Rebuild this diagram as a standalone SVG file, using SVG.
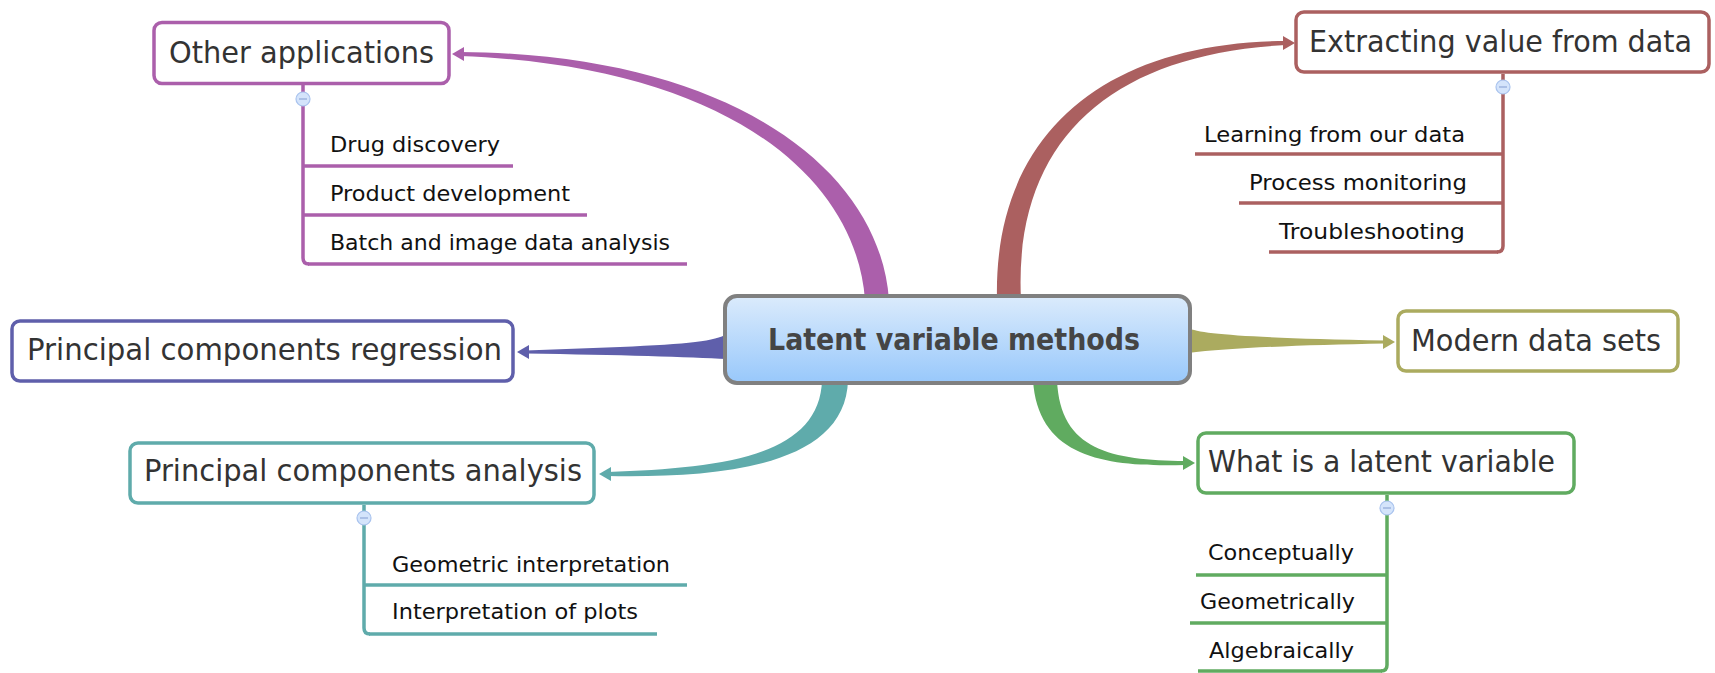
<svg xmlns="http://www.w3.org/2000/svg" width="1715" height="673" viewBox="0 0 1715 673">
<defs>
<linearGradient id="cg" x1="0" y1="0" x2="0" y2="1">
<stop offset="0" stop-color="#dbebfc"/>
<stop offset="1" stop-color="#98c8fb"/>
</linearGradient>
</defs>
<style>
.main{font-family:"DejaVu Sans","Liberation Sans",sans-serif;font-size:30.5px;fill:#333;}
.sub{font-family:"DejaVu Sans","Liberation Sans",sans-serif;font-size:21.5px;fill:#111;}
.ctr{font-family:"DejaVu Sans","Liberation Sans",sans-serif;font-size:30px;font-weight:bold;fill:#454545;}
.box{fill:#fff;stroke-width:3.5;}
.ul{fill:none;stroke-width:3.5;stroke-linecap:butt;}
.tog{fill:#d4e4fb;stroke:#a9c3ee;stroke-width:1.2;}
.togm{stroke:#8fa8d8;stroke-width:1.2;}
.pu{stroke:#ab5fab;} .puf{fill:#ab5fab;}
.rd{stroke:#ab6060;} .rdf{fill:#ab6060;}
.in{stroke:#5f5fab;} .inf{fill:#5f5fab;}
.te{stroke:#5fabab;} .tef{fill:#5fabab;}
.ol{stroke:#abab5f;} .olf{fill:#abab5f;}
.gr{stroke:#60ab60;} .grf{fill:#60ab60;}
</style>
<rect width="1715" height="673" fill="#fff"/>

<g id="connectors">
<!-- Other applications -->
<path class="puf" d="M889,300 C880,170 732,54 460,52 L460,56 C728,66 856,178 865,300 Z"/>
<polygon class="puf" points="452,54 464,47 464,61"/>
<!-- Extracting value -->
<path class="rdf" d="M997,300 C993,131 1108,42 1286,41 L1286,45 C1112,54 1013,139 1021,300 Z"/>
<polygon class="rdf" points="1295,43 1283,36 1283,50"/>
<!-- PCR -->
<path class="inf" d="M727,334 C715,341 690,344 620,347 L526,350.5 L526,353.5 C620,355 690,357 727,359 Z"/>
<polygon class="inf" points="517,352 529,345 529,359"/>
<!-- Modern data sets -->
<path class="olf" d="M1188,328 C1200,334 1250,338 1385,340.5 L1385,343.5 C1300,345 1230,348 1188,353 Z"/>
<polygon class="olf" points="1395,342 1383,335 1383,349"/>
<!-- PCA -->
<path class="tef" d="M848,380 C846,466 722,478 608,476 L608,472 C718,468 820,458 822,380 Z"/>
<polygon class="tef" points="599,474 611,467 611,481"/>
<!-- What is a latent variable -->
<path class="grf" d="M1033,380 C1038,459 1108,467 1185,465 L1185,461 C1112,460 1060,451 1057,380 Z"/>
<polygon class="grf" points="1195,463 1183,456 1183,470"/>

<!-- subtree spines -->
<path class="ul pu" d="M303,85 V258 Q303,264 309,264"/>
<path class="ul rd" d="M1503,74 V246 Q1503,252 1497,252"/>
<path class="ul te" d="M364,505 V628 Q364,634 370,634"/>
<path class="ul gr" d="M1387,495 V665 Q1387,671 1381,671"/>
</g>

<g id="n-center">
<rect x="725" y="296" width="465" height="87" rx="12" fill="url(#cg)" stroke="#808080" stroke-width="4"/>
<text class="ctr" x="768" y="350" textLength="372" lengthAdjust="spacingAndGlyphs">Latent variable methods</text>
</g>

<g id="n-other">
<rect class="box pu" x="154" y="22.5" width="295" height="61" rx="8"/>
<text class="main" x="169" y="63" textLength="265" lengthAdjust="spacingAndGlyphs">Other applications</text>
<circle class="tog" cx="303" cy="99" r="7"/>
<line class="togm" x1="299" y1="99" x2="307" y2="99"/>
</g>
<g id="s-drug">
<line class="ul pu" x1="303" y1="166" x2="513" y2="166"/>
<text class="sub" x="330" y="152" textLength="170" lengthAdjust="spacingAndGlyphs">Drug discovery</text>
</g>
<g id="s-product">
<line class="ul pu" x1="303" y1="215" x2="587" y2="215"/>
<text class="sub" x="330" y="201" textLength="240" lengthAdjust="spacingAndGlyphs">Product development</text>
</g>
<g id="s-batch">
<line class="ul pu" x1="308" y1="264" x2="687" y2="264"/>
<text class="sub" x="330" y="250" textLength="340" lengthAdjust="spacingAndGlyphs">Batch and image data analysis</text>
</g>

<g id="n-extract">
<rect class="box rd" x="1296" y="12" width="413" height="60" rx="8"/>
<text class="main" x="1309" y="52" textLength="383" lengthAdjust="spacingAndGlyphs">Extracting value from data</text>
<circle class="tog" cx="1503" cy="87" r="7"/>
<line class="togm" x1="1499" y1="87" x2="1507" y2="87"/>
</g>
<g id="s-learning">
<line class="ul rd" x1="1195" y1="154" x2="1503" y2="154"/>
<text class="sub" x="1204" y="142" textLength="261" lengthAdjust="spacingAndGlyphs">Learning from our data</text>
</g>
<g id="s-process">
<line class="ul rd" x1="1239" y1="203" x2="1503" y2="203"/>
<text class="sub" x="1249" y="190" textLength="218" lengthAdjust="spacingAndGlyphs">Process monitoring</text>
</g>
<g id="s-trouble">
<line class="ul rd" x1="1269" y1="252" x2="1498" y2="252"/>
<text class="sub" x="1279" y="239" textLength="186" lengthAdjust="spacingAndGlyphs">Troubleshooting</text>
</g>

<g id="n-pcr">
<rect class="box in" x="12" y="321" width="501" height="60" rx="8"/>
<text class="main" x="27" y="360" textLength="475" lengthAdjust="spacingAndGlyphs">Principal components regression</text>
</g>

<g id="n-modern">
<rect class="box ol" x="1398" y="311" width="280" height="60" rx="8"/>
<text class="main" x="1411" y="351" textLength="250" lengthAdjust="spacingAndGlyphs">Modern data sets</text>
</g>

<g id="n-pca">
<rect class="box te" x="130" y="443" width="464" height="60" rx="8"/>
<text class="main" x="144" y="481" textLength="438" lengthAdjust="spacingAndGlyphs">Principal components analysis</text>
<circle class="tog" cx="364" cy="518" r="7"/>
<line class="togm" x1="360" y1="518" x2="368" y2="518"/>
</g>
<g id="s-geo">
<line class="ul te" x1="364" y1="585" x2="687" y2="585"/>
<text class="sub" x="392" y="572" textLength="278" lengthAdjust="spacingAndGlyphs">Geometric interpretation</text>
</g>
<g id="s-plots">
<line class="ul te" x1="369" y1="634" x2="657" y2="634"/>
<text class="sub" x="392" y="619" textLength="246" lengthAdjust="spacingAndGlyphs">Interpretation of plots</text>
</g>

<g id="n-latent">
<rect class="box gr" x="1198" y="433" width="376" height="60" rx="8"/>
<text class="main" x="1208" y="472" textLength="347" lengthAdjust="spacingAndGlyphs">What is a latent variable</text>
<circle class="tog" cx="1387" cy="508" r="7"/>
<line class="togm" x1="1383" y1="508" x2="1391" y2="508"/>
</g>
<g id="s-concept">
<line class="ul gr" x1="1196" y1="575" x2="1387" y2="575"/>
<text class="sub" x="1208" y="560" textLength="146" lengthAdjust="spacingAndGlyphs">Conceptually</text>
</g>
<g id="s-geom">
<line class="ul gr" x1="1190" y1="623" x2="1387" y2="623"/>
<text class="sub" x="1200" y="609" textLength="155" lengthAdjust="spacingAndGlyphs">Geometrically</text>
</g>
<g id="s-alg">
<line class="ul gr" x1="1198" y1="671" x2="1382" y2="671"/>
<text class="sub" x="1209" y="658" textLength="145" lengthAdjust="spacingAndGlyphs">Algebraically</text>
</g>
</svg>
